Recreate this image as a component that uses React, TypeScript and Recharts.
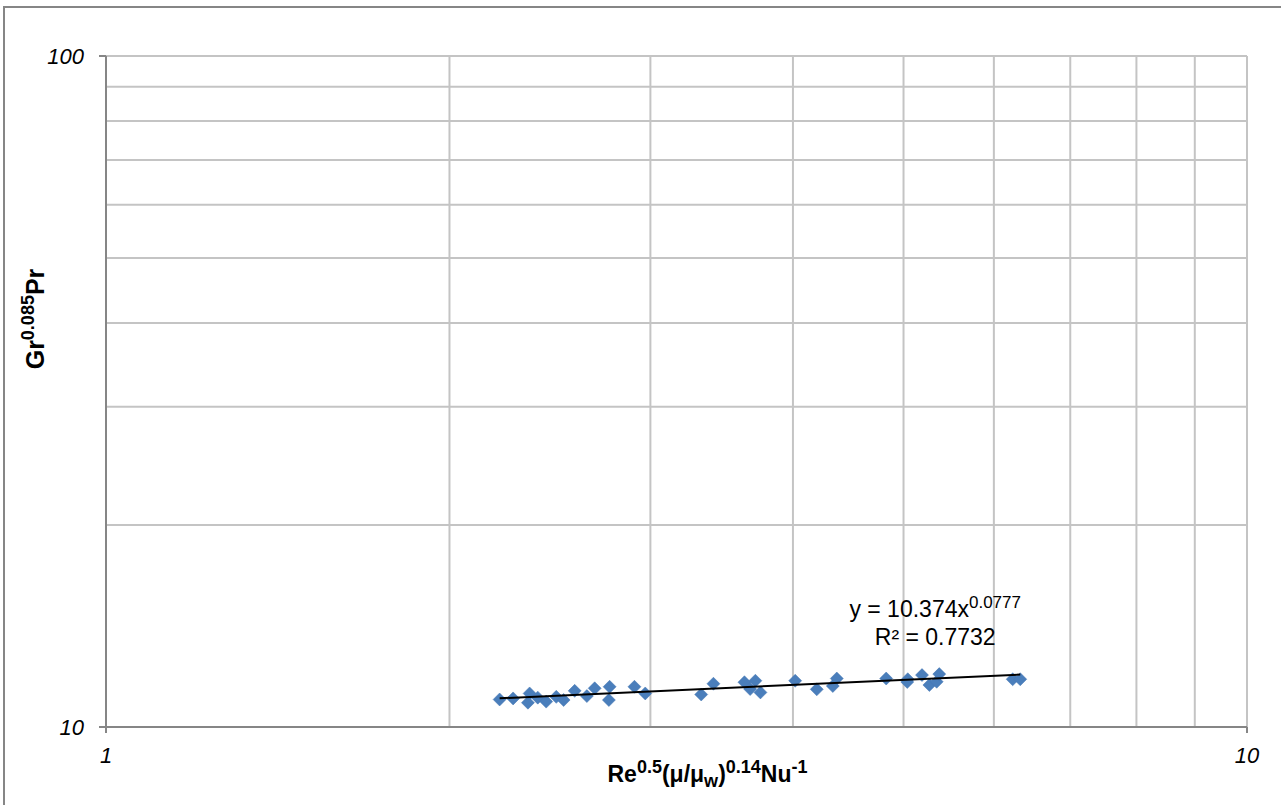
import React from 'react';
import { ScatterChart, Scatter, XAxis, YAxis, ReferenceLine, ReferenceDot } from 'recharts';

const xValues = [2.213, 2.274, 2.351, 2.343, 2.390, 2.431, 2.481, 2.518, 2.575, 2.639, 2.681, 2.763, 2.759, 2.905, 2.969, 3.324, 3.407, 3.627, 3.669, 3.708, 3.746, 4.018, 4.197, 4.335, 4.370, 4.828, 5.043, 5.038, 5.190, 5.268, 5.346, 5.374, 6.232, 6.328];
const yValues = [10.99, 11.03, 11.22, 10.87, 11.06, 10.91, 11.09, 10.97, 11.32, 11.12, 11.42, 11.48, 10.97, 11.48, 11.22, 11.18, 11.60, 11.66, 11.39, 11.72, 11.26, 11.72, 11.38, 11.51, 11.81, 11.81, 11.78, 11.67, 11.95, 11.55, 11.68, 11.99, 11.78, 11.78];
const xTicks = [1, 10];
const yTicks = [10, 100];
const xGrid = [2, 3, 4, 5, 6, 7, 8, 9, 10];
const yGrid = [20, 30, 40, 50, 60, 70, 80, 90, 100];
const trendA = 10.374;
const trendB = 0.0777;
const trendX = [2.213, 6.328];

const points = xValues.map((x, i) => ({ x, y: yValues[i] }));
const trend = trendX.map((x) => ({ x, y: trendA * Math.pow(x, trendB) }));

const FONT = '"Liberation Sans", Arial, sans-serif';
const GRID = '#c4c4c4';
const AXIS = '#868686';
const BLUE = '#4a7ebb';

const Diamond = (props: any) => {
  const { cx, cy } = props;
  if (cx == null || cy == null) return null;
  const r = 6.5;
  return <polygon points={`${cx},${cy - r} ${cx + r},${cy} ${cx},${cy + r} ${cx - r},${cy}`} fill={BLUE} stroke="#4577b3" strokeWidth={0.5} />;
};

const XTitle = (props: any) => {
  const vb = props.viewBox || {};
  const cx = vb.x + vb.width / 2 + 31;
  const y = vb.y + 55;
  return (
    <text x={cx} y={y} textAnchor="middle" fontFamily={FONT} fontWeight="bold" fontSize={23} fill="#000">
      Re<tspan fontSize={18} dy={-9}>0.5</tspan>
      <tspan fontSize={23} dy={9}>(μ/μ</tspan>
      <tspan fontSize={18} dy={5}>w</tspan>
      <tspan fontSize={23} dy={-5}>)</tspan>
      <tspan fontSize={18} dy={-9}>0.14</tspan>
      <tspan fontSize={23} dy={9}>Nu</tspan>
      <tspan fontSize={18} dy={-9}>-1</tspan>
    </text>
  );
};

const YTitle = () => {
  const x = 44;
  const y = 319;
  return (
    <text x={x} y={y} textAnchor="middle" transform={`rotate(-90, ${x}, ${y})`} fontFamily={FONT} fontWeight="bold" fontSize={25} fill="#000">
      Gr<tspan fontSize={18} dy={-10}>0.085</tspan>
      <tspan fontSize={25} dy={10}>Pr</tspan>
    </text>
  );
};

const EqLabel = (props: any) => {
  const vb = props.viewBox || {};
  const cx = vb.x + (vb.width || 0) / 2;
  const cy = vb.y + (vb.height || 0) / 2;
  return (
    <g fontFamily={FONT} fontSize={23} fill="#000">
      <text x={cx} y={cy} textAnchor="middle">
        y = 10.374x<tspan fontSize={17} dy={-9}>0.0777</tspan>
      </text>
      <text x={cx} y={cy + 28} textAnchor="middle">R² = 0.7732</text>
    </g>
  );
};

const tickStyle = { fontFamily: FONT, fontSize: 22, fontStyle: 'italic', fill: '#000' };

export default function App() {
  return (
    <div style={{ position: 'absolute', left: 0, top: 0, width: 1281, height: 805, background: '#fff', overflow: 'hidden' }}>
      <div style={{ position: 'absolute', left: 3, top: 6, width: 1400, height: 900, borderLeft: `2px solid ${AXIS}`, borderTop: `2px solid ${AXIS}` }} />
      <div style={{ position: 'absolute', left: 0, top: 0 }}>
        <ScatterChart width={1281} height={805} margin={{ top: 56, right: 34, left: 46, bottom: 0 }}>
          <XAxis
            type="number"
            dataKey="x"
            scale="log"
            domain={[1, 10]}
            ticks={xTicks}
            allowDataOverflow
            height={78}
            tick={tickStyle}
            tickSize={6}
            tickMargin={14}
            axisLine={{ stroke: AXIS, strokeWidth: 2 }}
            tickLine={{ stroke: AXIS, strokeWidth: 2 }}
            label={<XTitle />}
          />
          <YAxis
            type="number"
            dataKey="y"
            scale="log"
            domain={[10, 100]}
            ticks={yTicks}
            allowDataOverflow
            width={60}
            tick={tickStyle}
            tickSize={7}
            tickMargin={15}
            axisLine={{ stroke: AXIS, strokeWidth: 2 }}
            tickLine={{ stroke: AXIS, strokeWidth: 2 }}
          />
          {xGrid.map((v) => (
            <ReferenceLine key={'gx' + v} x={v} stroke={GRID} strokeWidth={2} />
          ))}
          {yGrid.map((v) => (
            <ReferenceLine key={'gy' + v} y={v} stroke={GRID} strokeWidth={2} />
          ))}
          <Scatter data={points} shape={<Diamond />} isAnimationActive={false} />
          <Scatter data={trend} line={{ stroke: '#000', strokeWidth: 2 }} shape={() => <g />} isAnimationActive={false} />
          <ReferenceDot x={5.33} y={14.6} r={0} fill="none" stroke="none" label={<EqLabel />} />
        </ScatterChart>
      </div>
      <svg style={{ position: 'absolute', left: 0, top: 0 }} width={1281} height={805} pointerEvents="none">
        <YTitle />
      </svg>
    </div>
  );
}
